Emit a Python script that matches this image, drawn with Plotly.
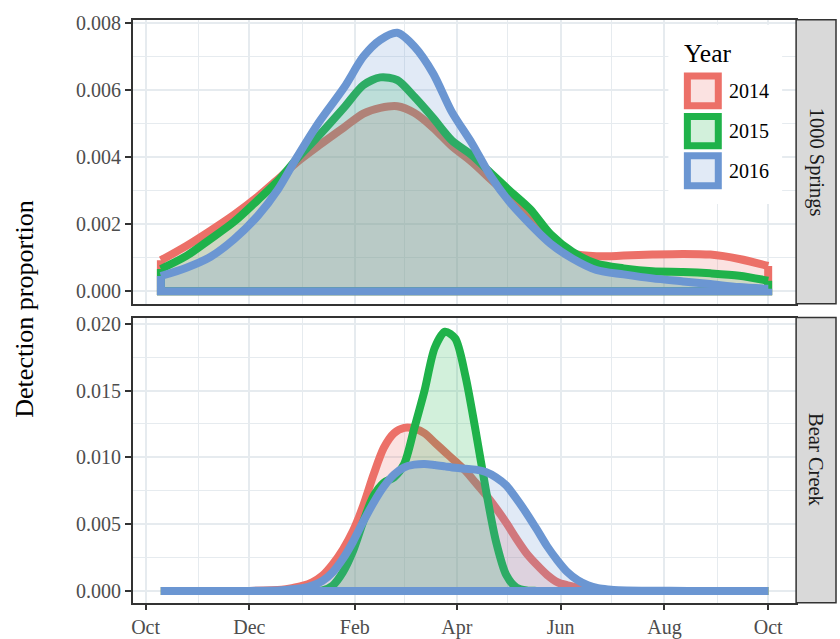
import plotly.graph_objects as go

# ---------------- data ----------------
years = ["2014", "2015", "2016"]
line_colors = {"2014": "#EC7068", "2015": "#1FB24A", "2016": "#6B96D2"}
fill_colors = {"2014": "rgba(236,112,104,0.2)", "2015": "rgba(31,178,74,0.2)", "2016": "rgba(107,150,210,0.2)"}

dates_springs = ["2015-10-10", "2015-10-25", "2015-11-08", "2015-11-22", "2015-12-06", "2015-12-18",
                 "2015-12-29", "2016-01-11", "2016-01-26", "2016-02-06", "2016-02-16", "2016-02-26",
                 "2016-03-07", "2016-03-18", "2016-03-29", "2016-04-10", "2016-04-21", "2016-05-02",
                 "2016-05-14", "2016-05-26", "2016-06-08", "2016-06-22", "2016-07-08", "2016-07-25",
                 "2016-08-12", "2016-08-28", "2016-09-14", "2016-10-01"]
springs_2014 = [0.00092, 0.00135, 0.00180, 0.00228, 0.00282, 0.00335, 0.00385, 0.00435, 0.00490, 0.00530,
                0.00547, 0.00552, 0.00532, 0.00488, 0.00433, 0.00385, 0.00333, 0.00280, 0.00210, 0.00150,
                0.00113, 0.00104, 0.00106, 0.00109, 0.00111, 0.00109, 0.00096, 0.00075]
springs_2015 = [0.00066, 0.00105, 0.00155, 0.00207, 0.00272, 0.00330, 0.00395, 0.00465, 0.00550, 0.00615,
                0.00638, 0.00630, 0.00580, 0.00517, 0.00450, 0.00405, 0.00352, 0.00300, 0.00245, 0.00170,
                0.00117, 0.00082, 0.00068, 0.00059, 0.00057, 0.00053, 0.00046, 0.00031]
springs_2016 = [0.00045, 0.00070, 0.00102, 0.00155, 0.00225, 0.00305, 0.00400, 0.00505, 0.00610, 0.00700,
                0.00750, 0.00771, 0.00730, 0.00650, 0.00535, 0.00440, 0.00342, 0.00266, 0.00200, 0.00142,
                0.00097, 0.00063, 0.00050, 0.00038, 0.00029, 0.00021, 0.00012, 0.00007]

dates_bear = ["2015-10-10", "2015-12-01", "2015-12-20", "2015-12-26", "2016-01-01", "2016-01-07",
              "2016-01-13", "2016-01-19", "2016-01-25", "2016-01-31", "2016-02-06", "2016-02-12",
              "2016-02-18", "2016-02-24", "2016-03-01", "2016-03-07", "2016-03-13", "2016-03-19",
              "2016-03-25", "2016-03-31", "2016-04-06", "2016-04-12", "2016-04-18", "2016-04-24",
              "2016-04-30", "2016-05-06", "2016-05-12", "2016-05-18", "2016-05-24", "2016-05-30",
              "2016-06-05", "2016-06-11", "2016-06-17", "2016-06-23", "2016-06-29", "2016-07-05",
              "2016-07-20", "2016-08-15", "2016-10-01"]
bear_2014 = [0, 0, 0.00008, 0.00020, 0.00037, 0.00065, 0.00115, 0.00200, 0.00310, 0.00450, 0.00640, 0.00870,
             0.01070, 0.01180, 0.01220, 0.01215, 0.01180, 0.01110, 0.01040, 0.00970, 0.00900, 0.00810,
             0.00720, 0.00620, 0.00510, 0.00390, 0.00280, 0.00195, 0.00120, 0.00066, 0.00042, 0.00025,
             0.00008, 0.00002, 0, 0, 0, 0, 0]
bear_2015 = [0, 0, 0, 0, 0, 0, 0.00003, 0.00040, 0.00140, 0.00300, 0.00520, 0.00710, 0.00810, 0.00850,
             0.00950, 0.01220, 0.01500, 0.01820, 0.01940, 0.01890, 0.01610, 0.01200, 0.00760, 0.00370,
             0.00120, 0.00025, 0.00003, 0, 0, 0, 0, 0, 0, 0, 0, 0, 0, 0, 0]
bear_2016 = [0, 0, 0.00005, 0.00012, 0.00020, 0.00040, 0.00075, 0.00140, 0.00240, 0.00370, 0.00520, 0.00660,
             0.00780, 0.00870, 0.00925, 0.00945, 0.00950, 0.00942, 0.00932, 0.00922, 0.00915, 0.00908,
             0.00890, 0.00850, 0.00790, 0.00690, 0.00580, 0.00460, 0.00335, 0.00230, 0.00140, 0.00080,
             0.00042, 0.00020, 0.00010, 0.00004, 0.00001, 0, 0]

month_ticks = ["2015-10-01", "2015-12-01", "2016-02-01", "2016-04-01", "2016-06-01", "2016-08-01", "2016-10-01"]
month_labels = ["Oct", "Dec", "Feb", "Apr", "Jun", "Aug", "Oct"]
month_minor = ["2015-11-01", "2016-01-01", "2016-03-01", "2016-05-01", "2016-07-01", "2016-09-01"]
x_range = ["2015-09-23 10:00", "2016-10-17 10:00"]

panels = [
    ("1000 Springs", dates_springs, {"2014": springs_2014, "2015": springs_2015, "2016": springs_2016}, "x", "y"),
    ("Bear Creek", dates_bear, {"2014": bear_2014, "2015": bear_2015, "2016": bear_2016}, "x2", "y2"),
]

# ---------------- figure ----------------
W, H = 840, 639
fig = go.Figure()
LW = 8

for name, dates, series, xa, ya in panels:
    for yr in years:
        vals = series[yr]
        fig.add_trace(go.Scatter(
            x=dates, y=vals, mode="lines", xaxis=xa, yaxis=ya,
            line=dict(color=line_colors[yr], width=LW, shape="spline", smoothing=0.8),
            fill="tozeroy", fillcolor=fill_colors[yr], showlegend=False, hoverinfo="skip"))
        fig.add_trace(go.Scatter(
            x=[dates[0], dates[0], dates[-1], dates[-1]], y=[vals[0], 0, 0, vals[-1]],
            mode="lines", xaxis=xa, yaxis=ya,
            line=dict(color=line_colors[yr], width=LW), showlegend=False, hoverinfo="skip"))

def px_x(p):
    return p / W

def px_y(p):
    return 1 - p / H

grid_col = "#E6EBEF"
border_col = "#333333"
tick_font = dict(family="Liberation Serif", size=20, color="#4D4D4D")

xdom = [px_x(131), px_x(796)]
common_x = dict(type="date", range=x_range, domain=xdom, showline=True, mirror=True,
                linecolor=border_col, linewidth=1.5, showgrid=True, gridcolor=grid_col, gridwidth=2,
                tickmode="array", tickvals=month_ticks, ticktext=month_labels,
                minor=dict(tickmode="array", tickvals=month_minor, showgrid=True, gridcolor=grid_col,
                           gridwidth=1, ticks=""),
                zeroline=False, tickfont=tick_font)

fig.update_layout(
    width=W, height=H, margin=dict(l=0, r=0, t=0, b=0),
    paper_bgcolor="white", plot_bgcolor="white", showlegend=False,
    xaxis=dict(**common_x, anchor="y", showticklabels=False, ticks="", matches="x2"),
    xaxis2=dict(**common_x, anchor="y2", ticks="outside", ticklen=6, tickwidth=1.5, tickcolor=border_col),
    yaxis=dict(domain=[px_y(302), px_y(12)], range=[-0.00038, 0.0081], anchor="x",
               tickmode="array", tickvals=[0, 0.002, 0.004, 0.006, 0.008],
               ticktext=["0.000", "0.002", "0.004", "0.006", "0.008"],
               minor=dict(tickmode="array", tickvals=[0.001, 0.003, 0.005, 0.007], showgrid=True,
                          gridcolor=grid_col, gridwidth=1, ticks=""),
               showline=True, mirror=True, linecolor=border_col, linewidth=1.5,
               showgrid=True, gridcolor=grid_col, gridwidth=2, zeroline=False,
               ticks="outside", ticklen=6, tickwidth=1.5, tickcolor=border_col, tickfont=tick_font),
    yaxis2=dict(domain=[px_y(607), px_y(316)], range=[-0.00088, 0.02046], anchor="x2",
                tickmode="array", tickvals=[0, 0.005, 0.010, 0.015, 0.020],
                ticktext=["0.000", "0.005", "0.010", "0.015", "0.020"],
                minor=dict(tickmode="array", tickvals=[0.0025, 0.0075, 0.0125, 0.0175], showgrid=True,
                           gridcolor=grid_col, gridwidth=1, ticks=""),
                showline=True, mirror=True, linecolor=border_col, linewidth=1.5,
                showgrid=True, gridcolor=grid_col, gridwidth=2, zeroline=False,
                ticks="outside", ticklen=6, tickwidth=1.5, tickcolor=border_col, tickfont=tick_font),
)

shapes = []
annotations = []

# facet strips
for name, (top, bot) in zip(["1000 Springs", "Bear Creek"], [(12, 302), (316, 607)]):
    shapes.append(dict(type="rect", xref="paper", yref="paper", x0=px_x(796), x1=px_x(836),
                       y0=px_y(bot), y1=px_y(top), fillcolor="#D9D9D9",
                       line=dict(color=border_col, width=1.5), layer="above"))
    annotations.append(dict(xref="paper", yref="paper", x=px_x(816), y=px_y((top + bot) / 2),
                            text=name, textangle=90, showarrow=False,
                            font=dict(family="Liberation Serif", size=20.5, color="#1A1A1A"),
                            xanchor="center", yanchor="middle"))

# legend (drawn manually, ggplot style)
shapes.append(dict(type="rect", xref="paper", yref="paper", x0=px_x(668), x1=px_x(782),
                   y0=px_y(200), y1=px_y(17), fillcolor="white", line=dict(width=0), layer="above"))
annotations.append(dict(xref="paper", yref="paper", x=px_x(682), y=px_y(46), text="Year",
                        showarrow=False, xanchor="left", yanchor="middle",
                        font=dict(family="Liberation Serif", size=25.5, color="black")))
key_rows = [(69.5, 99.8), (110.8, 140.5), (150.8, 181.5)]
for yr, (t, b) in zip(years, key_rows):
    shapes.append(dict(type="rect", xref="paper", yref="paper", x0=px_x(687), x1=px_x(718),
                       y0=px_y(b), y1=px_y(t), fillcolor=fill_colors[yr],
                       line=dict(color=line_colors[yr], width=7), layer="above"))
    annotations.append(dict(xref="paper", yref="paper", x=px_x(727), y=px_y((t + b) / 2), text=yr,
                            showarrow=False, xanchor="left", yanchor="middle",
                            font=dict(family="Liberation Serif", size=20, color="black")))

# y-axis title
annotations.append(dict(xref="paper", yref="paper", x=px_x(23), y=px_y(307), text="Detection proportion",
                        textangle=-90, showarrow=False, xanchor="center", yanchor="middle",
                        font=dict(family="Liberation Serif", size=26, color="black")))

fig.update_layout(shapes=shapes, annotations=annotations)
fig.write_html("out.html", config={"displayModeBar": False},
               post_script="document.body.style.margin='0';document.body.style.overflow='hidden';")
